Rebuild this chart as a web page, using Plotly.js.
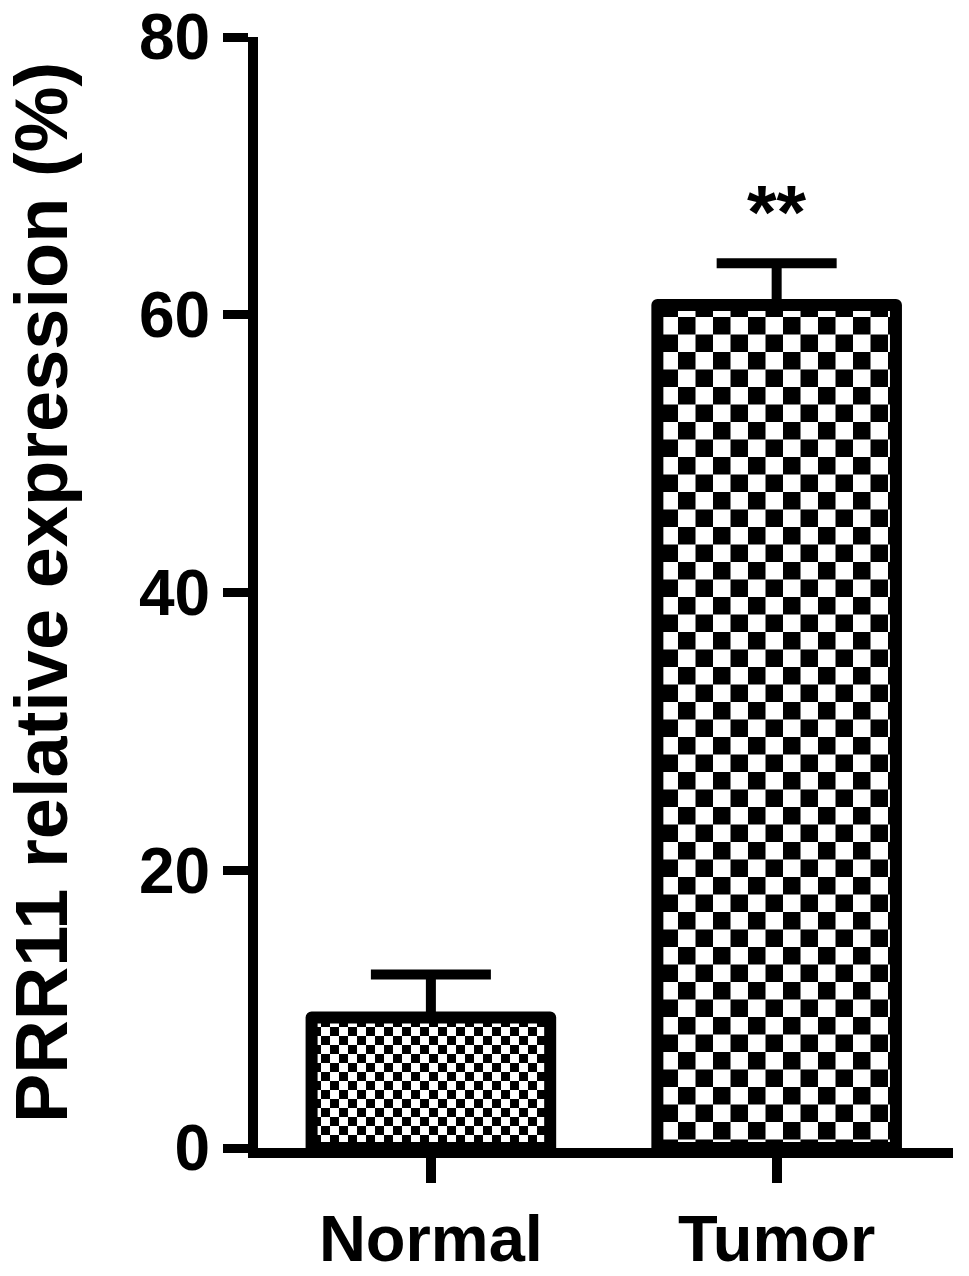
<!DOCTYPE html>
<html><head><meta charset="utf-8">
<script src="https://cdn.plot.ly/plotly-3.0.1.min.js"></script>
<style>html,body{margin:0;padding:0;background:#fff}</style>
</head><body>
<div id="chart" style="width:969px;height:1276px"></div>
<script>
// ---- data ----
const categories = ["Normal", "Tumor"];
const means = [9.4, 60.7];
const sem = [3.1, 3.0];
const yTickVals = [0, 20, 40, 60, 80];
const yTickText = ["0", "20", "40", "60", "80"];
const significance = ["", "**"];
const yTitle = "PRR11 relative expression (%)";

// ---- styles ----
const FONT = "Liberation Sans, Arial, Helvetica, sans-serif";
const checkerSizes = [18, 35];

const trace = {
  type: "bar",
  x: categories,
  y: means,
  width: 0.69,
  marker: {
    color: "white",
    line: { color: "black", width: 12 },
    pattern: { shape: ".", size: checkerSizes, solidity: 0.4, fgcolor: "black", bgcolor: "white", fillmode: "replace" }
  },
  error_y: {
    type: "data", symmetric: false, array: sem, arrayminus: [0, 0],
    color: "black", thickness: 10, width: 60
  },
  hoverinfo: "none"
};

const annotations = categories.map((c, i) => ({
  x: c, y: means[i] + sem[i], xref: "x", yref: "y",
  text: significance[i], showarrow: false, yanchor: "bottom", yshift: 7,
  font: { family: FONT, size: 76, color: "black", weight: "bold" }
})).filter(a => a.text);

const layout = {
  width: 969, height: 1276,
  margin: { l: 258, r: 16, t: 37, b: 128 },
  paper_bgcolor: "white", plot_bgcolor: "white",
  showlegend: false,
  xaxis: {
    type: "category", range: [-0.5, 1.51],
    showline: true, linecolor: "black", linewidth: 10,
    ticks: "outside", ticklen: 25, tickwidth: 10, tickcolor: "black",
    showgrid: false, zeroline: false,
    tickfont: { family: FONT, size: 65, color: "black", weight: "bold" }
  },
  yaxis: {
    range: [0, 80], tickvals: yTickVals, ticktext: yTickText,
    showline: true, linecolor: "black", linewidth: 10,
    ticks: "outside", ticklen: 25, tickwidth: 9, tickcolor: "black",
    showgrid: false, zeroline: false,
    tickfont: { family: FONT, size: 64, color: "black", weight: "bold" },
    title: { text: yTitle, standoff: 56, font: { family: FONT, size: 74, color: "black", weight: "bold" } }
  },
  annotations: annotations
};

Plotly.newPlot("chart", [trace], layout, { staticPlot: true, displayModeBar: false }).then(gd => {
  // turn dot tiles into checkerboard tiles
  const NS = "http://www.w3.org/2000/svg";
  gd.querySelectorAll("pattern").forEach(p => {
    const s = parseFloat(p.getAttribute("width"));
    if (!s) return;
    while (p.firstChild) p.removeChild(p.firstChild);
    const mk = (x, y, w, h, f) => {
      const r = document.createElementNS(NS, "rect");
      r.setAttribute("x", x); r.setAttribute("y", y);
      r.setAttribute("width", w); r.setAttribute("height", h);
      r.setAttribute("fill", f); p.appendChild(r);
    };
    mk(0, 0, s, s, "white");
    mk(0, 0, s / 2, s / 2, "black");
    mk(s / 2, s / 2, s / 2, s / 2, "black");
  });
  gd.querySelectorAll(".bars path").forEach(el => { el.style.strokeLinejoin = "round"; });
  gd.querySelectorAll(".errorbars path").forEach(el => { el.style.strokeLinecap = "round"; });
});
</script>
</body></html>
